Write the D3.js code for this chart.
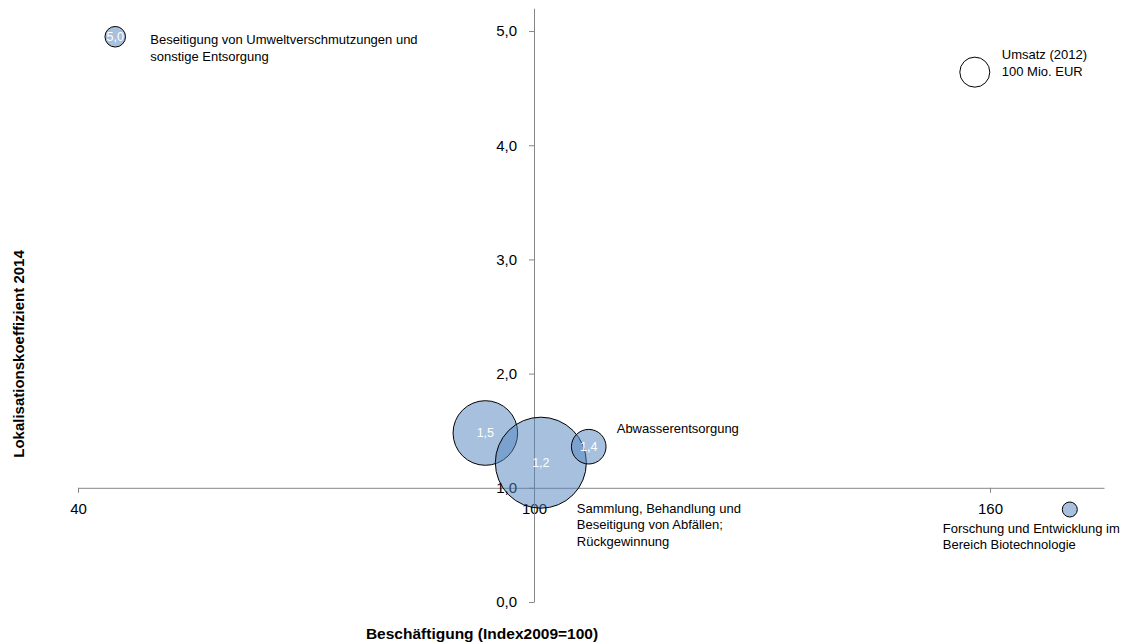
<!DOCTYPE html>
<html>
<head>
<meta charset="utf-8">
<script src="https://cdn.jsdelivr.net/npm/d3@7"></script>
<style>
  html, body { margin: 0; padding: 0; background: #ffffff; }
  svg { display: block; }
  text { font-family: "Liberation Sans", Arial, sans-serif; }
</style>
</head>
<body>
<svg id="chart" width="1123" height="644"></svg>
<script>
// ---- Data ----
const categories = [
  "Beseitigung von Umweltverschmutzungen und|sonstige Entsorgung",
  "",
  "Sammlung, Behandlung und|Beseitigung von Abfällen;|Rückgewinnung",
  "Abwasserentsorgung",
  "Forschung und Entwicklung im|Bereich Biotechnologie"
];
const employmentIndex = [44.9, 93.6, 100.9, 107.2, 170.5];      // x
const locationQuotient = [4.95, 1.48, 1.22, 1.36, 0.81];        // y
const revenue = [47, 464, 920, 133, 25];                        // bubble size (Mio. EUR)
const valueLabels = ["5,0", "1,5", "1,2", "1,4", ""];
// label placement relative to bubble: dx, dy (first line)
const labelOffsets = [[35, 7], [0, 0], [36, 50], [28, -14], [-127, 23]];

const legendItem = { x: 158.0, y: 4.64, size: 100, lines: ["Umsatz (2012)", "100 Mio. EUR"] };

const xTicks = [40, 100, 160];
const yTicks = [0, 1, 2, 3, 4, 5];
const xTitle = "Beschäftigung (Index2009=100)";
const yTitle = "Lokalisationskoeffizient 2014";

// ---- Scales ----
const svg = d3.select("#chart");
const x = d3.scaleLinear().domain([40, 175]).range([78, 1104]);
const y = d3.scaleLinear().domain([0, 5.2]).range([602, 8.2]);
const r = d3.scaleSqrt().domain([0, 100]).range([0, 15]);

const axisColor = "#868686";
const fmt = d => d.toFixed(1).replace(".", ",");

// ---- Axes ----
const gx = svg.append("g")
  .attr("transform", `translate(0,${y(1)})`)
  .call(d3.axisBottom(x).tickValues(xTicks).tickSize(5).tickSizeOuter(0).tickPadding(11));
const gy = svg.append("g")
  .attr("transform", `translate(${x(100)},0)`)
  .call(d3.axisLeft(y).tickValues(yTicks).tickFormat(fmt).tickSize(5).tickSizeOuter(0).tickPadding(12));

[gx, gy].forEach(g => {
  g.select(".domain").attr("stroke", axisColor).attr("stroke-width", 1);
  g.selectAll(".tick line").attr("stroke", axisColor);
  g.selectAll(".tick text").attr("fill", "#000").attr("font-size", 15)
    .attr("font-family", "'Liberation Sans', Arial, sans-serif");
});

// ---- Axis titles ----
svg.append("text")
  .attr("x", 482).attr("y", 639)
  .attr("text-anchor", "middle")
  .attr("font-size", 15.5).attr("font-weight", "bold")
  .text(xTitle);
svg.append("text")
  .attr("transform", `translate(24,354) rotate(-90)`)
  .attr("text-anchor", "middle")
  .attr("font-size", 15).attr("font-weight", "bold")
  .text(yTitle);

// ---- Bubbles ----
const data = categories.map((c, i) => ({
  name: c, x: employmentIndex[i], y: locationQuotient[i], size: revenue[i],
  label: valueLabels[i], off: labelOffsets[i]
}));

svg.append("g").selectAll("circle")
  .data(data)
  .join("circle")
  .attr("cx", d => x(d.x))
  .attr("cy", d => y(d.y))
  .attr("r", d => r(d.size))
  .attr("fill", "rgba(79,129,189,0.5)")
  .attr("stroke", "#000")
  .attr("stroke-width", 1);

// value labels inside bubbles
svg.append("g").selectAll("text")
  .data(data.filter(d => d.label))
  .join("text")
  .attr("x", d => x(d.x))
  .attr("y", d => y(d.y))
  .attr("dy", "0.35em")
  .attr("text-anchor", "middle")
  .attr("fill", "#ffffff")
  .attr("font-size", 12.5)
  .text(d => d.label);

// category labels
const catG = svg.append("g");
data.filter(d => d.name).forEach(d => {
  const lines = d.name.split("|");
  const t = catG.append("text")
    .attr("x", x(d.x) + d.off[0])
    .attr("y", y(d.y) + d.off[1])
    .attr("font-size", 13)
    .attr("fill", "#000");
  lines.forEach((ln, k) => {
    t.append("tspan")
      .attr("x", x(d.x) + d.off[0])
      .attr("dy", k === 0 ? 0 : 16.8)
      .text(ln);
  });
});

// ---- Size legend bubble ----
svg.append("circle")
  .attr("cx", x(legendItem.x))
  .attr("cy", y(legendItem.y))
  .attr("r", r(legendItem.size))
  .attr("fill", "#ffffff")
  .attr("stroke", "#000")
  .attr("stroke-width", 1);
const lt = svg.append("text")
  .attr("x", x(legendItem.x) + 27)
  .attr("y", y(legendItem.y) - 13)
  .attr("font-size", 13);
legendItem.lines.forEach((ln, k) => {
  lt.append("tspan").attr("x", x(legendItem.x) + 27).attr("dy", k === 0 ? 0 : 17).text(ln);
});
</script>
</body>
</html>
